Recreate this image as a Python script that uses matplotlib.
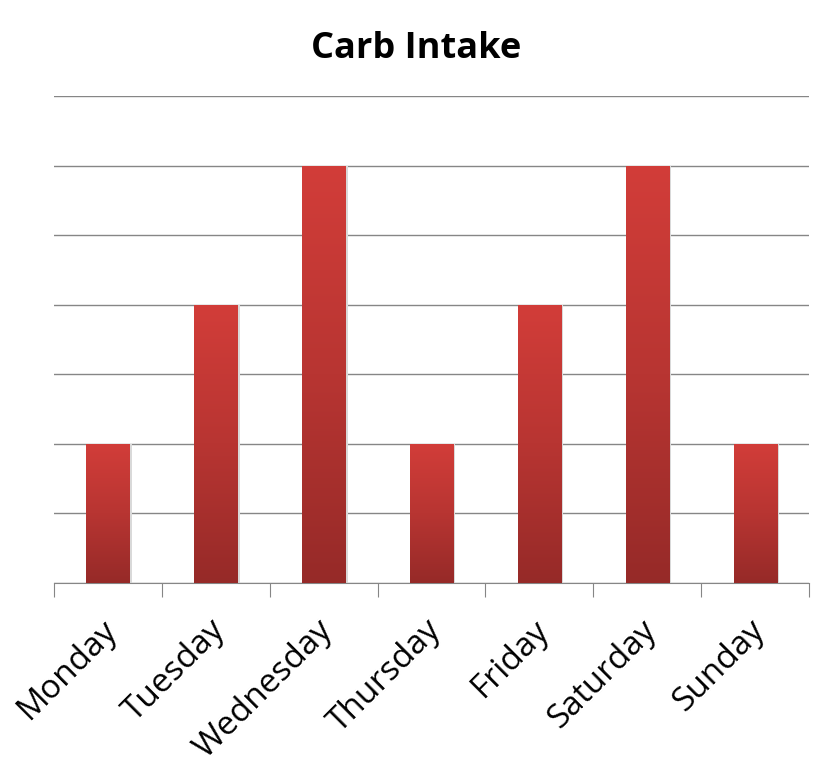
import matplotlib
matplotlib.use("Agg")
import matplotlib.pyplot as plt
import matplotlib.transforms as mtransforms
import numpy as np
from matplotlib.colors import LinearSegmentedColormap

# data
days = ["Monday", "Tuesday", "Wednesday", "Thursday", "Friday", "Saturday", "Sunday"]
carbs = [2, 4, 6, 2, 4, 6, 2]

plt.rcParams['font.family'] = ['Open Sans', 'DejaVu Sans']

fig = plt.figure(figsize=(8.33, 7.8), dpi=100)
ax = fig.add_axes([0.0648, 0.2526, 0.9064, 0.6243])

x = np.arange(len(days))
bars = ax.bar(x, carbs, width=0.4, color='none', zorder=3)

# vertical gradient on each bar, light on top, dark at bottom
grad_cmap = LinearSegmentedColormap.from_list("redgrad", ["#962a28", "#b83532", "#d23d39"])
grad = np.linspace(0, 1, 256).reshape(-1, 1)
for b in bars:
    x0, y0 = b.get_x(), b.get_y()
    w, h = b.get_width(), b.get_height()
    # soft shadow
    ax.bar(x0 + w / 2 + 0.012, h, width=w + 0.02, bottom=0, color="#d9d9d9", zorder=2)
    im = ax.imshow(grad, cmap=grad_cmap, aspect='auto', origin='lower',
                   extent=[x0, x0 + w, y0, y0 + h], zorder=3)
    im.set_clip_path(b)

ax.set_xlim(-0.5, len(days) - 0.5)
ax.set_ylim(0, 7)
ax.set_yticks(range(0, 8))
ax.yaxis.grid(True, color="#868686", linewidth=1)
ax.set_axisbelow(True)
ax.tick_params(axis='y', left=False, labelleft=False)

for side in ['left', 'right', 'top']:
    ax.spines[side].set_visible(False)
ax.spines['bottom'].set_color("#868686")

# ticks at category boundaries, labels centered
ax.set_xticks(np.arange(-0.5, len(days) + 0.5, 1))
ax.set_xticklabels([])
ax.tick_params(axis='x', which='major', direction='out', length=10, color="#868686")
ax.set_xticks(x, minor=True)
ax.set_xticklabels(days, minor=True, rotation=45, ha='right', rotation_mode='anchor', fontsize=24)
ax.tick_params(axis='x', which='minor', length=0, pad=22)
shift = mtransforms.ScaledTranslation(-7 / 100, 0, fig.dpi_scale_trans)
for lbl in ax.get_xticklabels(minor=True):
    lbl.set_transform(lbl.get_transform() + shift)

fig.suptitle("Carb Intake", y=0.96, fontsize=26, fontweight='bold')

fig.savefig("out.png", dpi=100)
